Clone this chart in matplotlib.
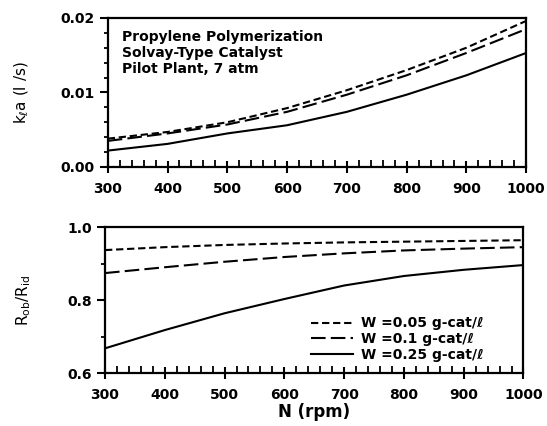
import matplotlib.pyplot as plt
from matplotlib.ticker import MultipleLocator, FormatStrFormatter

# ===== Data =====
rpm = [300, 400, 500, 600, 700, 800, 900, 1000]

# k_l a (1/s)
kla_005 = [0.0038, 0.0047, 0.0060, 0.0079, 0.0103, 0.0130, 0.0160, 0.0196]
kla_01 = [0.0035, 0.0045, 0.0057, 0.0074, 0.0097, 0.0123, 0.0153, 0.0185]
kla_025 = [0.0022, 0.0031, 0.0045, 0.0056, 0.0074, 0.0097, 0.0123, 0.0153]

# R_ob / R_id
r_005 = [0.937, 0.945, 0.951, 0.955, 0.958, 0.960, 0.962, 0.964]
r_01 = [0.874, 0.890, 0.905, 0.918, 0.928, 0.936, 0.941, 0.945]
r_025 = [0.668, 0.718, 0.764, 0.803, 0.840, 0.866, 0.883, 0.896]

labels = ["W =0.05 g-cat/ℓ", "W =0.1 g-cat/ℓ", "W =0.25 g-cat/ℓ"]
styles = [(0, (3.5, 1.8)), (0, (7, 2.5)), "-"]

plt.rcParams["font.family"] = ["DejaVu Sans"]
plt.rcParams["mathtext.default"] = "regular"

fig = plt.figure(figsize=(5.47, 4.26), dpi=100)
ax1 = fig.add_axes([0.197, 0.608, 0.765, 0.350])
ax2 = fig.add_axes([0.192, 0.124, 0.765, 0.343])


def style_axes(ax):
    for s in ax.spines.values():
        s.set_linewidth(1.6)
    ax.set_xlim(300, 1000)
    ax.xaxis.set_major_locator(MultipleLocator(100))
    ax.xaxis.set_minor_locator(MultipleLocator(20))
    ax.tick_params(axis="x", which="major", direction="inout", length=9, width=1.5, labelsize=10, pad=6)
    ax.tick_params(axis="x", which="minor", direction="in", length=5, width=1.3)
    ax.tick_params(axis="y", which="major", direction="out", length=6, width=1.5, labelsize=10)
    ax.tick_params(axis="y", which="minor", direction="out", length=3, width=1.3)
    for t in ax.get_xticklabels() + ax.get_yticklabels():
        t.set_fontweight("bold")


# ===== Top: k_l a vs N =====
for y, ls in zip([kla_005, kla_01, kla_025], styles):
    ax1.plot(rpm, y, color="black", linestyle=ls, lw=1.5)
ax1.set_ylim(0, 0.02)
ax1.yaxis.set_major_locator(MultipleLocator(0.01))
ax1.yaxis.set_minor_locator(MultipleLocator(0.002))
ax1.yaxis.set_major_formatter(FormatStrFormatter("%.2f"))
style_axes(ax1)
ax1.set_ylabel(r"k$_\ell$a (l /s)", fontsize=11)
ax1.yaxis.set_label_coords(-0.183, 0.5)
ax1.text(0.035, 0.92, "Propylene Polymerization\nSolvay-Type Catalyst\nPilot Plant, 7 atm",
         transform=ax1.transAxes, ha="left", va="top", fontsize=10, fontweight="bold",
         linespacing=1.2)

# ===== Bottom: R_ob/R_id vs N =====
for y, ls, lab in zip([r_005, r_01, r_025], styles, labels):
    ax2.plot(rpm, y, color="black", linestyle=ls, lw=1.5, label=lab)
ax2.set_ylim(0.6, 1.0)
ax2.yaxis.set_major_locator(MultipleLocator(0.2))
ax2.yaxis.set_minor_locator(MultipleLocator(0.1))
ax2.yaxis.set_major_formatter(FormatStrFormatter("%.1f"))
style_axes(ax2)
ax2.set_ylabel(r"R$_{ob}$/R$_{id}$", fontsize=11)
ax2.yaxis.set_label_coords(-0.172, 0.5)
ax2.set_xlabel("N (rpm)", fontsize=12, fontweight="bold", labelpad=1)
leg = ax2.legend(loc="lower left", bbox_to_anchor=(0.48, 0.04), frameon=False, fontsize=10,
                 handlelength=3.0, handletextpad=0.6, labelspacing=0.12, borderaxespad=0.0)
for t in leg.get_texts():
    t.set_fontweight("bold")

fig.savefig("out.png", dpi=100)
